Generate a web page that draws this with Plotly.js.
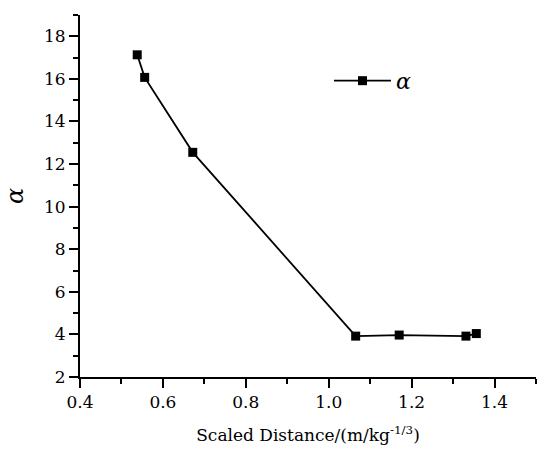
<!DOCTYPE html>
<html>
<head>
<meta charset="utf-8">
<script src="https://cdn.plot.ly/plotly-3.0.1.min.js"></script>
<style>html,body{margin:0;padding:0;background:#fff;}#chart{width:550px;height:463px;}</style>
</head>
<body>
<div id="chart"></div>
<script>
const scaledDistance = [0.538, 0.556, 0.672, 1.065, 1.170, 1.331, 1.356];
const alphaValues = [17.13, 16.07, 12.55, 3.92, 3.97, 3.92, 4.04];
const seriesName = 'α';
const xTickVals = [0.4, 0.6, 0.8, 1.0, 1.2, 1.4];
const xTickText = ['0.4', '0.6', '0.8', '1.0', '1.2', '1.4'];
const yTickVals = [2, 4, 6, 8, 10, 12, 14, 16, 18];

const FONT = 'DejaVu Serif';

const trace = {
  x: scaledDistance,
  y: alphaValues,
  name: '<i>' + seriesName + '</i>',
  mode: 'lines+markers',
  type: 'scatter',
  line: {color: '#000', width: 1.8},
  marker: {symbol: 'square', size: 9, color: '#000'}
};

const layout = {
  width: 550,
  height: 463,
  margin: {l: 79.5, r: 13.5, t: 15, b: 86.3},
  paper_bgcolor: '#fff',
  plot_bgcolor: '#fff',
  font: {family: FONT, color: '#000', size: 17},
  showlegend: true,
  legend: {
    x: 0.546, y: 0.818, xanchor: 'left', yanchor: 'middle',
    itemwidth: 57,
    bgcolor: 'rgba(0,0,0,0)',
    font: {family: FONT, size: 22, color: '#000'}
  },
  xaxis: {
    range: [0.4, 1.5],
    tickmode: 'array', tickvals: xTickVals, ticktext: xTickText,
    ticks: 'outside', ticklen: 9, tickwidth: 2, tickcolor: '#000',
    showline: true, linecolor: '#000', linewidth: 2,
    showgrid: false, zeroline: false,
    tickfont: {family: FONT, size: 17},
    minor: {ticks: 'outside', ticklen: 5, tickwidth: 2, tickcolor: '#000', dtick: 0.1, showgrid: false},
    title: {text: 'Scaled Distance/(m/kg<sup>-1/3</sup>)', font: {family: FONT, size: 17}, standoff: 18}
  },
  yaxis: {
    range: [2, 19],
    tickmode: 'array', tickvals: yTickVals,
    ticks: 'outside', ticklen: 9, tickwidth: 2, tickcolor: '#000',
    showline: true, linecolor: '#000', linewidth: 2,
    showgrid: false, zeroline: false,
    tickfont: {family: FONT, size: 17},
    minor: {ticks: 'outside', ticklen: 5, tickwidth: 2, tickcolor: '#000', dtick: 1, showgrid: false},
    title: {text: '<i>α</i>', font: {family: FONT, size: 24}, standoff: 14}
  }
};

Plotly.newPlot('chart', [trace], layout, {displayModeBar: false, staticPlot: true});
</script>
</body>
</html>
